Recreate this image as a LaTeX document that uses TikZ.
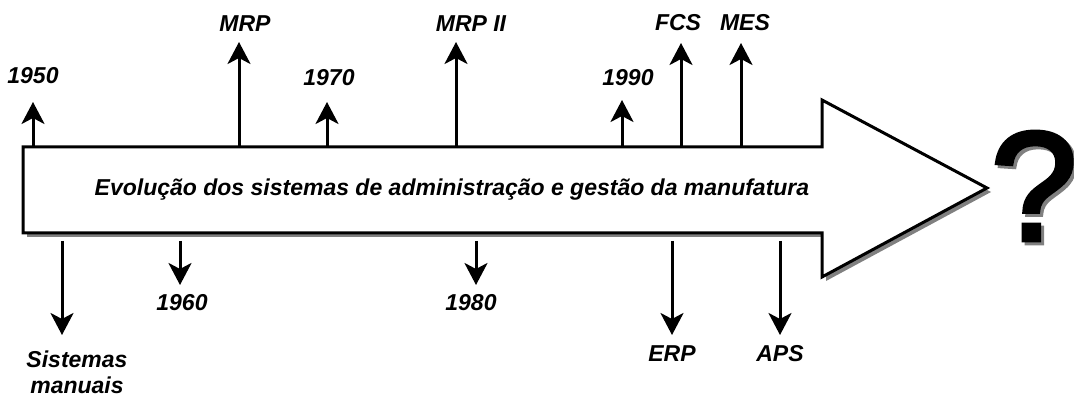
\documentclass[tikz,border=0pt]{standalone}
\usepackage{fontspec}
\setmainfont{Liberation Sans}
\newfontfamily\qfont{Liberation Sans}[FakeBold=3]
\usetikzlibrary{arrows.meta}
\begin{document}
\begin{tikzpicture}[x=1pt,y=-1pt,
  tick/.style={line width=3pt,-{Stealth[length=22pt,width=23pt,inset=6pt]}},
  lab/.style={font=\fontsize{23}{26}\selectfont\bfseries\itshape, inner sep=0pt, align=center},
  body/.style={line width=3pt, fill=white, line join=miter},
  shade/.style={fill=black!50},
  qmark/.style={font=\qfont\fontsize{155}{155}\selectfont, inner sep=0pt}]
\useasboundingbox (0,0) rectangle (1074,398);
% up ticks
\coordinate (b1950) at (33,147);   \coordinate (t1950) at (33,102);
\coordinate (bMRP) at (239,147);   \coordinate (tMRP) at (239,42);
\coordinate (b1970) at (327,147);  \coordinate (t1970) at (327,102);
\coordinate (bMRPII) at (456,147); \coordinate (tMRPII) at (456,42);
\coordinate (b1990) at (622,147);  \coordinate (t1990) at (622,100);
\coordinate (bFCS) at (681,147);   \coordinate (tFCS) at (681,43);
\coordinate (bMES) at (741,147);   \coordinate (tMES) at (741,43);
% down ticks
\coordinate (bSM) at (62,241);     \coordinate (tSM) at (62,335);
\coordinate (b1960) at (180,241);  \coordinate (t1960) at (180,285);
\coordinate (b1980) at (476,241);  \coordinate (t1980) at (476,285);
\coordinate (bERP) at (672,241);   \coordinate (tERP) at (672,335);
\coordinate (bAPS) at (780,241);   \coordinate (tAPS) at (780,335);
\foreach \n in {1950,MRP,1970,MRPII,1990,FCS,MES,SM,1960,1980,ERP,APS}
  \draw[tick] (b\n) -- (t\n);
% main arrow with shadow
\begin{scope}[shift={(4,4)}]
\fill[shade] (23,147) -- (822,147) -- (822,100) -- (987,188) -- (822,277) -- (822,233) -- (23,233) -- cycle;
\end{scope}
\draw[body] (23,147) -- (822,147) -- (822,100) -- (987,188) -- (822,277) -- (822,233) -- (23,233) -- cycle;
\node[lab] (title) at (452,190) {Evolução dos sistemas de administração e gestão da manufatura};
% labels
\node[lab] (l1950) at (33,76) {1950};
\node[lab] (lMRP) at (245,24) {MRP};
\node[lab] (l1970) at (329,78) {1970};
\node[lab] (lMRPII) at (471,24) {MRP II};
\node[lab] (l1990) at (628,78) {1990};
\node[lab] (lFCS) at (678,23) {FCS};
\node[lab] (lMES) at (745,23) {MES};
\node[lab] (lSM) at (77,372) {Sistemas\\manuais};
\node[lab] (l1960) at (182,303) {1960};
\node[lab] (l1980) at (471,303) {1980};
\node[lab] (lERP) at (672,354) {ERP};
\node[lab] (lAPS) at (780,354) {APS};
% question mark
\node[qmark, text=black!50] (qs) at (1037,189) {?};
\node[qmark] (q) at (1034,186) {?};
\end{tikzpicture}
\end{document}
